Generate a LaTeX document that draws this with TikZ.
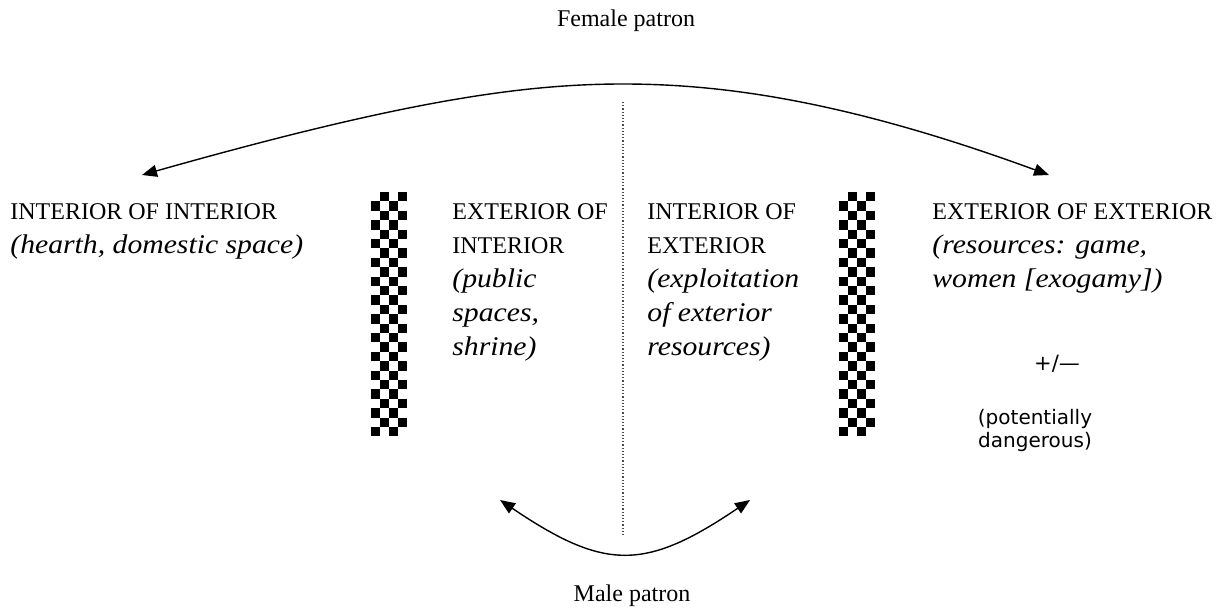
\documentclass[tikz,border=0pt]{standalone}
\usepackage{fontspec}
\setmainfont{Liberation Serif}
\newfontfamily\notefont[FakeStretch=1.1]{Liberation Serif Italic}
\newfontfamily\signfont{DejaVu Sans}
\newcommand{\note}[1]{{\notefont\fontsize{13.5}{17}\selectfont #1}}
\usetikzlibrary{arrows.meta}

\begin{document}
\begin{tikzpicture}[x=0.5pt,y=-0.5pt]
  \tikzstyle{every node}+=[inner sep=0pt]
  \tikzstyle{zone}=[anchor=north west, align=left, font=\fontsize{12}{17}\selectfont]
  \tikzstyle{patron}=[font=\fontsize{12}{14}\selectfont]
  \tikzstyle{swing}=[{Triangle[length=7.5pt,width=6pt]}-{Triangle[length=7.5pt,width=6pt]}, line width=0.7pt]
  \useasboundingbox (0,0) rectangle (1219,615);
  % patrons
  \node [patron] (female) at (626,21) {Female patron};
  \node [patron] (male) at (632,596) {Male patron};
  % zones
  \node [zone] (intint) at (10,203) {INTERIOR OF INTERIOR\\\note{(hearth, domestic space)}};
  \node [zone] (extint) at (452,203) {EXTERIOR OF\\INTERIOR\\\note{(public}\\\note{spaces,}\\\note{shrine)}};
  \node [zone] (intext) at (647,203) {INTERIOR OF\\EXTERIOR\\\note{(exploitation}\\\note{of exterior}\\\note{resources)}};
  \node [zone] (extext) at (932,203) {EXTERIOR OF EXTERIOR\\\note{(resources: game,}\\\note{women [exogamy])}};
  \node [font=\signfont\fontsize{10.5}{12}\selectfont] (sign) at (1057,364) {+/—};
  \node [align=center, font=\signfont\fontsize{10}{11.5}\selectfont] (danger) at (1035,430) {(potentially\\dangerous)};
  % walls
  \foreach \bx in {371,839} {
    \foreach \r in {0,...,25} {
      \foreach \c in {0,...,3} {
        \pgfmathtruncatemacro\odd{mod(\r+\c,2)}
        \ifnum\odd=1 \fill [black] (\bx+\c*9,192+\r*9.4) rectangle +(9,9.4); \fi
      }
    }
  }
  % divide
  \coordinate (dtop) at (623,102);
  \coordinate (dbot) at (623,535);
  \draw [densely dotted, line width=0.6pt, black!70] (dtop) -- (dbot);
  % arcs
  \coordinate (fl) at (142,175);
  \coordinate (ftop) at (623,84);
  \coordinate (fr) at (1049,175);
  \coordinate (ml) at (500,500);
  \coordinate (mr) at (750,500);
  \draw [swing] (fl) .. controls (400,102) and (520,84) .. (ftop) .. controls (726,84) and (850,102) .. (fr);
  \draw [swing] (ml) .. controls (605,571) and (645,571) .. (mr);
\end{tikzpicture}
\end{document}
